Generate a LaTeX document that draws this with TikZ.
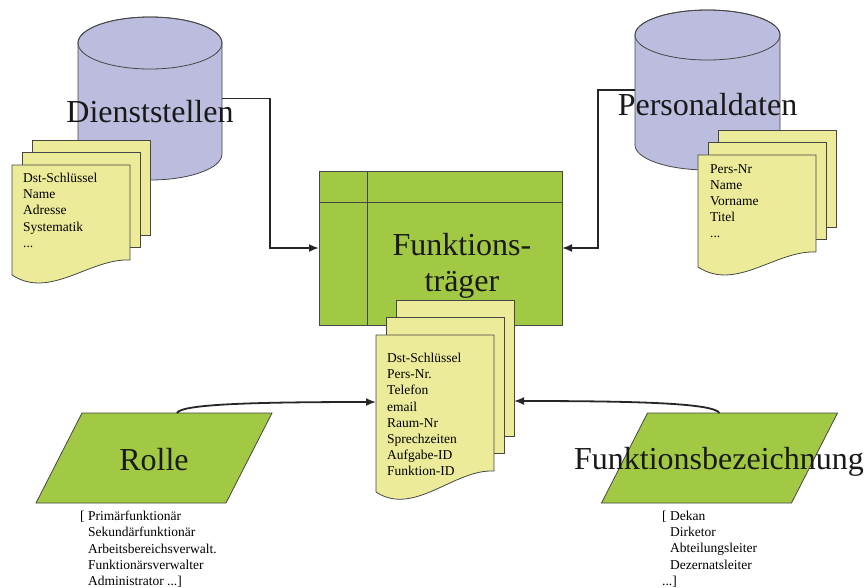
\documentclass[tikz,border=0pt]{standalone}
\usepackage{fontspec}
\setmainfont{Liberation Serif}
\usetikzlibrary{arrows.meta, positioning, shapes.geometric}

\definecolor{dbblue}{RGB}{187,188,222}
\definecolor{docyellow}{RGB}{236,235,153}
\definecolor{ftgreen}{RGB}{161,201,67}
\definecolor{edgegray}{RGB}{70,70,70}

% three stacked sheets: name, left x, top y, height of front sheet, step between sheets
\newcommand\docstack[5]{%
  \node[page, anchor=north west, minimum height={#4pt-1.2*#5pt}] (#1-back) at (#2+20,#3-2*#5) {};
  \node[page, anchor=north west, minimum height={#4pt-1.2*#5pt}] (#1-mid) at (#2+10,#3-#5) {};
  \path[sheet] (#2,#3) -- (#2+118,#3) -- (#2+118,#3+#4-1.2*#5)
    .. controls (#2+78,#3+#4-1.2*#5-2) and (#2+38,#3+#4+25) .. (#2,#3+#4) -- cycle;
  \coordinate (#1-front) at (#2,#3);
}

\begin{document}
\begin{tikzpicture}[
    x=1pt, y=-1pt,
    edge/.style={draw=edgegray, line width=0.8pt},
    sheet/.style={edge, fill=docyellow},
    page/.style={sheet, rectangle, minimum width=118pt, inner sep=0pt, outer sep=0pt},
    hull/.style={rectangle, inner sep=0pt, outer sep=0pt},
    ftbox/.style={rectangle, edge, fill=ftgreen, minimum width=243pt, minimum height=154pt, inner sep=0pt, outer sep=0pt},
    para/.style={edge, fill=ftgreen},
    bigtext/.style={font=\fontsize{32}{36}\selectfont, text=black!90, align=center, inner sep=0pt},
    attrs/.style={font=\fontsize{13.5}{16.2}\selectfont, text=black, align=left, inner sep=0pt},
    arrow/.style={-{Latex[length=10pt, width=8pt]}, line width=1.8pt, draw=black!85}
]
\useasboundingbox (0,0) rectangle (866,587);

% databases
\path[edge, fill=dbblue] (78,43) -- (78,154) arc[start angle=180, end angle=0, x radius=72, y radius=26]
    -- (222,43) arc[start angle=0, end angle=-180, x radius=72, y radius=26] -- cycle;
\draw[edge] (150,43) ellipse[x radius=72, y radius=26];
\node[hull, minimum width=144pt, minimum height=163pt] (dst) at (150,98.5) {};
\node[bigtext] (dsttext) at (150,112) {Dienststellen};

\path[edge, fill=dbblue] (635,35) -- (635,145) arc[start angle=180, end angle=0, x radius=72.5, y radius=25]
    -- (780,35) arc[start angle=0, end angle=-180, x radius=72.5, y radius=25] -- cycle;
\draw[edge] (707.5,35) ellipse[x radius=72.5, y radius=25];
\node[hull, minimum width=145pt, minimum height=160pt] (pers) at (707.5,90) {};
\node[bigtext] (perstext) at (707.5,105) {Personaldaten};

\docstack{dst}{12}{165}{110}{12.5}
\node[attrs, anchor=north west] (dstattr) at (23,173) {Dst-Schlüssel\\Name\\Adresse\\Systematik\\...};

\docstack{pers}{698}{155}{112}{12.5}
\node[attrs, anchor=north west] (persattr) at (710,164) {Pers-Nr\\Name\\Vorname\\Titel\\...};

% central entity
\node[ftbox] (ft) at (440.5,248) {};
\draw[edge] ([xshift=48pt]ft.north west) -- ([xshift=48pt]ft.south west);
\draw[edge] ([yshift=-31pt]ft.north west) -- ([yshift=-31pt]ft.north east);
\node[bigtext] (fttext) at (462,266) {Funktions-\\träger};

\docstack{ft}{376}{335}{157}{17.5}
\node[attrs, anchor=north west] (ftattr) at (387,353) {Dst-Schlüssel\\Pers-Nr.\\Telefon\\email\\Raum-Nr\\Sprechzeiten\\Aufgabe-ID\\Funktion-ID};

% lookup tables
\node[hull, minimum width=236pt, minimum height=90pt] (rolle) at (154,458) {};
\path[para] ([xshift=46pt]rolle.north west) -- (rolle.north east)
    -- ([xshift=-46pt]rolle.south east) -- (rolle.south west) -- cycle;
\node[bigtext] (rolletext) at (154,460) {Rolle};
\node[attrs, anchor=north west] (rollelist) at (80,511) {[ Primärfunktionär\\\hphantom{[ }Sekundärfunktionär\\\hphantom{[ }Arbeitsbereichsverwalt.\\\hphantom{[ }Funktionärsverwalter\\\hphantom{[ }Administrator ...]};

\node[hull, minimum width=236pt, minimum height=90pt] (fb) at (719.5,458) {};
\path[para] ([xshift=46pt]fb.north west) -- (fb.north east)
    -- ([xshift=-46pt]fb.south east) -- (fb.south west) -- cycle;
\node[bigtext] (fbtext) at (719,462) {Funktionsbezeichnung};
\node[attrs, anchor=north west] (fblist) at (662,511) {[ Dekan\\\hphantom{[ }Dirketor\\\hphantom{[ }Abteilungsleiter\\\hphantom{[ }Dezernatsleiter\\...]};

% connectors
\draw[arrow] (dst.east) -- ++(48,0) |- (ft.west);
\draw[arrow] (pers.west) -- ++(-37,0) |- (ft.east);
\draw[arrow] ([xshift=23pt]rolle.north) .. controls +(4,-9) and +(-120,0) .. ([yshift=-67pt]ft-front);
\draw[arrow] (fb.north) .. controls +(-6,-10) and +(120,0) .. ([yshift=-101pt]ft-back.north east);
\end{tikzpicture}
\end{document}
